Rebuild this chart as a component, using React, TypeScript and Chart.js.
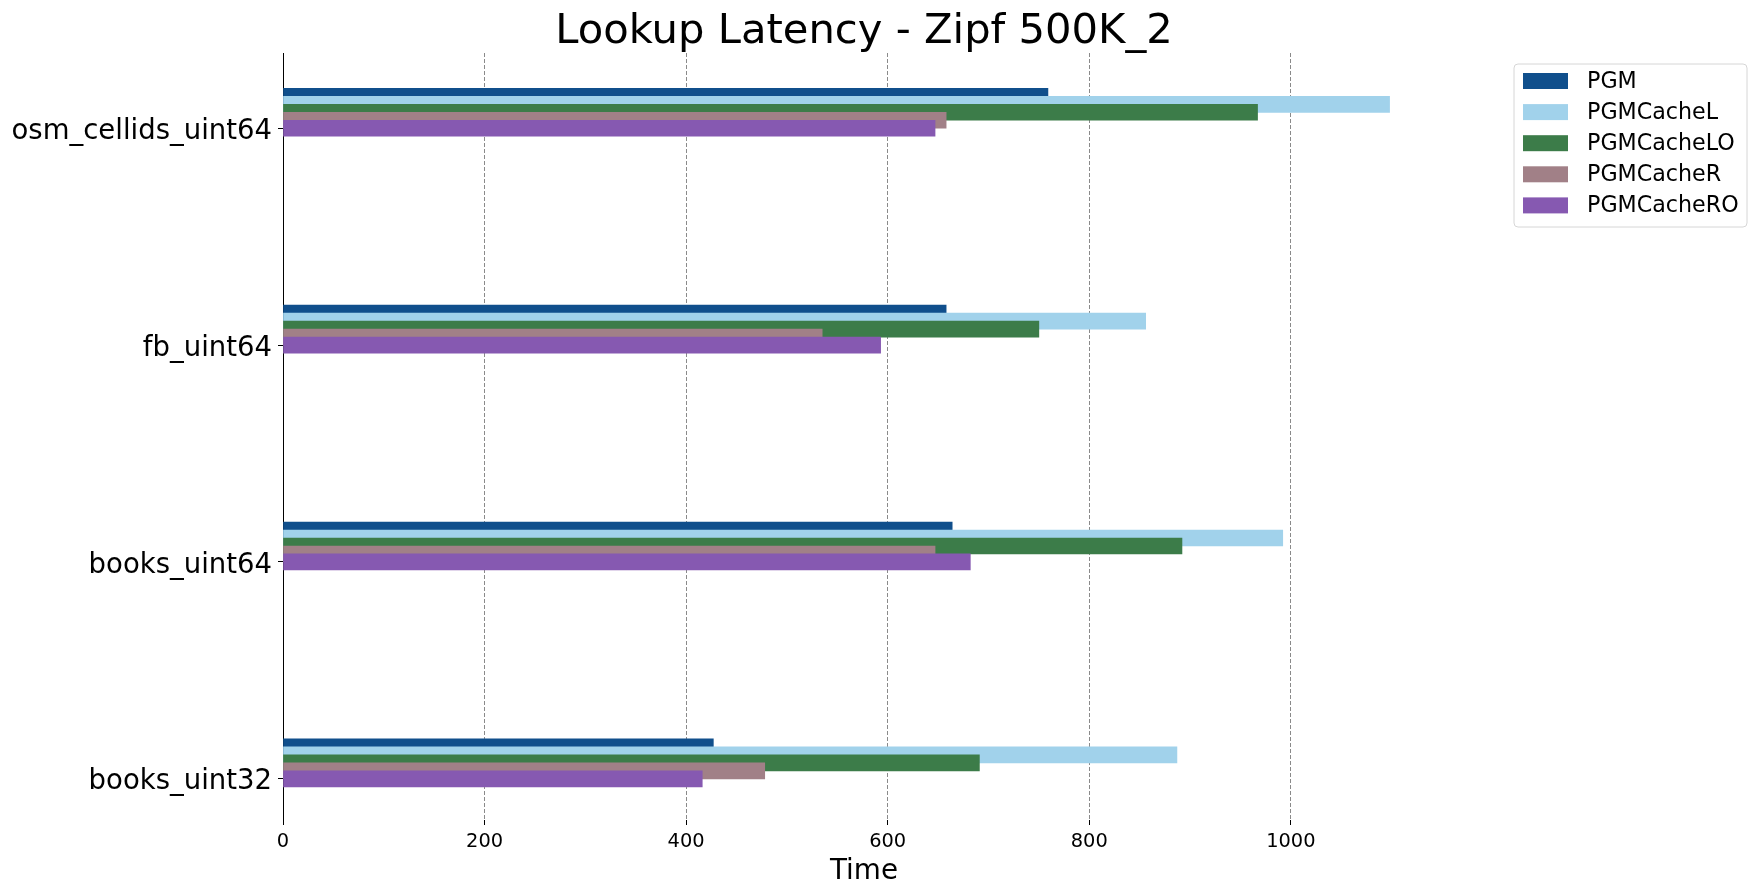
import React, { useEffect, useRef } from "react";
import { Chart, registerables } from "chart.js";

Chart.register(...registerables);

const categories = ["books_uint32", "books_uint64", "fb_uint64", "osm_cellids_uint64"];
const seriesNames = ["PGM", "PGMCacheL", "PGMCacheLO", "PGMCacheR", "PGMCacheRO"];
const pgm = [427, 664, 658, 759];
const pgmCacheL = [887, 992, 856, 1098];
const pgmCacheLO = [691, 892, 750, 967];
const pgmCacheR = [478, 647, 535, 658];
const pgmCacheRO = [416, 682, 593, 647];
const seriesValues = [pgm, pgmCacheL, pgmCacheLO, pgmCacheR, pgmCacheRO];
const seriesColors = ["#104f8c", "#a1d2eb", "#3c7c49", "#a18087", "#8659b1"];
const xTicks = [0, 200, 400, 600, 800, 1000];

const TITLE = "Lookup Latency - Zipf 500K_2";
const X_LABEL = "Time";
const FONT = "'DejaVu Sans', sans-serif";
const OFFSET = 0.0368;

export default function App() {
  const ref = useRef<HTMLCanvasElement | null>(null);

  useEffect(() => {
    const canvas = ref.current;
    if (!canvas) return;

    const datasets = seriesNames.map((name, k) => ({
      label: name,
      data: seriesValues[k].map((v, i) => ({ x: v, y: i + (4 - k) * OFFSET })),
      backgroundColor: seriesColors[k],
      borderWidth: 0,
      barThickness: 16,
      grouped: false,
      order: 4 - k,
    }));

    const overlay = {
      id: "overlay",
      afterDraw(chart: any) {
        const ctx = chart.ctx;
        const area = chart.chartArea;
        ctx.save();
        ctx.fillStyle = "#000";
        ctx.textAlign = "center";
        ctx.textBaseline = "alphabetic";
        ctx.font = `41.7px ${FONT}`;
        ctx.fillText(TITLE, (area.left + area.right) / 2, 42.7);
        ctx.font = `27.8px ${FONT}`;
        ctx.fillText(X_LABEL, (area.left + area.right) / 2, 879);

        // legend
        const bx = 1514, by = 64, bw = 233, bh = 163, r = 4;
        ctx.beginPath();
        ctx.moveTo(bx + r, by);
        ctx.lineTo(bx + bw - r, by);
        ctx.quadraticCurveTo(bx + bw, by, bx + bw, by + r);
        ctx.lineTo(bx + bw, by + bh - r);
        ctx.quadraticCurveTo(bx + bw, by + bh, bx + bw - r, by + bh);
        ctx.lineTo(bx + r, by + bh);
        ctx.quadraticCurveTo(bx, by + bh, bx, by + bh - r);
        ctx.lineTo(bx, by + r);
        ctx.quadraticCurveTo(bx, by, bx + r, by);
        ctx.closePath();
        ctx.fillStyle = "rgba(255,255,255,0.8)";
        ctx.fill();
        ctx.strokeStyle = "#d6d6d6";
        ctx.lineWidth = 1;
        ctx.stroke();

        ctx.font = `22.2px ${FONT}`;
        ctx.textAlign = "left";
        ctx.textBaseline = "middle";
        seriesNames.forEach((name, k) => {
          const cy = 81 + k * 31.1;
          ctx.fillStyle = seriesColors[k];
          ctx.fillRect(1523, cy - 8, 45, 16);
          ctx.fillStyle = "#000";
          ctx.fillText(name, 1587, cy + 1);
        });
        ctx.restore();
      },
    };

    const chart = new Chart(canvas, {
      type: "bar",
      data: { datasets: datasets as any },
      options: {
        indexAxis: "y",
        animation: false,
        responsive: false,
        devicePixelRatio: 1,
        layout: { padding: { top: 53, right: 311, left: 0, bottom: 0 } },
        plugins: {
          legend: { display: false },
          title: { display: false },
          tooltip: { enabled: false },
        },
        scales: {
          x: {
            type: "linear",
            position: "bottom",
            min: 0,
            max: 1153,
            offset: false,
            afterFit(scale: any) {
              scale.height = 76;
            },
            afterBuildTicks(scale: any) {
              scale.ticks = xTicks.map((v) => ({ value: v }));
            },
            ticks: {
              color: "#000",
              font: { family: FONT, size: 19.4 },
              padding: 5,
              maxRotation: 0,
              autoSkip: false,
              includeBounds: false,
              callback: (v: any) => String(v),
            },
            grid: {
              display: true,
              drawOnChartArea: true,
              drawTicks: true,
              offset: false,
              color: "#8a8a8a",
              lineWidth: 1,
              tickColor: "#000",
              tickLength: 5,
              tickWidth: 1,
              tickBorderDash: [],
            } as any,
            border: { display: false, dash: [4, 2] },
          },
          y: {
            type: "linear",
            position: "left",
            min: -0.19,
            max: 3.347,
            offset: false,
            afterFit(scale: any) {
              scale.width = 283;
            },
            afterBuildTicks(scale: any) {
              scale.ticks = categories.map((_, i) => ({ value: i }));
            },
            ticks: {
              color: "#000",
              font: { family: FONT, size: 27.5 },
              padding: 6,
              labelOffset: 3.5,
              autoSkip: false,
              callback: (v: any) => categories[Math.round(Number(v))] ?? "",
            },
            grid: {
              display: true,
              offset: false,
              drawOnChartArea: false,
              drawTicks: true,
              tickColor: "#000",
              tickLength: 5,
              tickWidth: 1,
            } as any,
            border: { display: true, color: "#000", width: 1 },
          },
        },
      },
      plugins: [overlay],
    });

    return () => chart.destroy();
  }, []);

  return (
    <div style={{ position: "fixed", left: 0, top: 0, width: 1756, height: 896, background: "#fff" }}>
      <canvas ref={ref} width={1756} height={896} style={{ display: "block" }} />
    </div>
  );
}
